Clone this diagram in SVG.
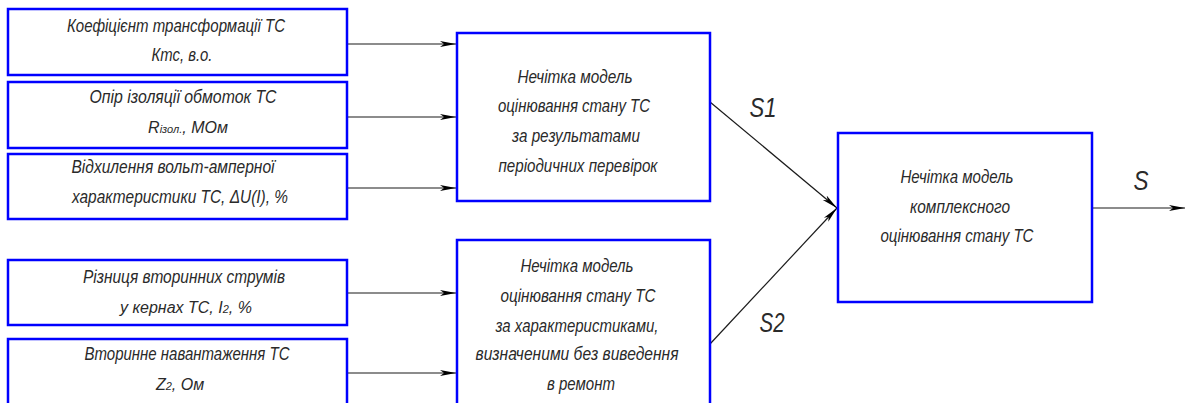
<svg xmlns="http://www.w3.org/2000/svg" width="1186" height="403" viewBox="0 0 1186 403">
<style>
.box{fill:#fff;stroke:#0000ff;stroke-width:2.5}
.t{font-family:"Liberation Sans Narrow","Liberation Sans",sans-serif;font-style:italic;font-size:18px;fill:#2a2a2a;text-anchor:middle}
.t2{font-family:"Liberation Sans Narrow","Liberation Sans",sans-serif;font-style:italic;font-size:16px;fill:#2a2a2a;text-anchor:middle}
.s{font-family:"Liberation Sans Narrow","Liberation Sans",sans-serif;font-style:italic;font-size:28px;fill:#2a2a2a;text-anchor:middle}
.c{fill:none;stroke:#1a1a1a;stroke-width:1.2}
.sub{font-size:11px}
</style>
<defs>
<marker id="ah" markerUnits="userSpaceOnUse" markerWidth="18" markerHeight="10" refX="16" refY="5" orient="auto">
<path d="M0,2 L16,5 L0,8 L4,5 Z" fill="#000"/>
</marker>
</defs>
<rect width="1186" height="403" fill="#fff"/>
<g id="connectors">
<line class="c" x1="347" y1="44" x2="456" y2="44" marker-end="url(#ah)"/>
<line class="c" x1="347" y1="117" x2="456" y2="117" marker-end="url(#ah)"/>
<line class="c" x1="347" y1="188" x2="456" y2="188" marker-end="url(#ah)"/>
<line class="c" x1="347" y1="293" x2="456" y2="293" marker-end="url(#ah)"/>
<line class="c" x1="347" y1="373" x2="456" y2="373" marker-end="url(#ah)"/>
<line class="c" x1="710" y1="102" x2="837" y2="208" marker-end="url(#ah)"/>
<line class="c" x1="710" y1="344" x2="837" y2="208" marker-end="url(#ah)"/>
<line class="c" x1="1092" y1="208" x2="1185" y2="208" marker-end="url(#ah)"/>
<text class="s" x="763" y="117" textLength="27" lengthAdjust="spacingAndGlyphs">S1</text>
<text class="s" x="772" y="332" textLength="25" lengthAdjust="spacingAndGlyphs">S2</text>
<text class="s" x="1141" y="190" textLength="15" lengthAdjust="spacingAndGlyphs">S</text>
</g>
<g id="n1">
<rect class="box" x="8" y="9" width="339" height="66"/>
<text class="t" x="176" y="32" textLength="218" lengthAdjust="spacingAndGlyphs">Коефіцієнт трансформації ТС</text>
<text class="t" x="182" y="61" textLength="61" lengthAdjust="spacingAndGlyphs">Ктс, в.о.</text>
</g>
<g id="n2">
<rect class="box" x="8" y="82" width="339" height="66"/>
<text class="t" x="183" y="103" textLength="187" lengthAdjust="spacingAndGlyphs">Опір ізоляції обмоток ТС</text>
<text class="t2" x="188" y="133">R<tspan class="sub">ізол.</tspan>, МОм</text>
</g>
<g id="n3">
<rect class="box" x="8" y="154" width="339" height="65"/>
<text class="t" x="173" y="173" textLength="203" lengthAdjust="spacingAndGlyphs">Відхилення вольт-амперної</text>
<text class="t" x="180" y="203" textLength="216" lengthAdjust="spacingAndGlyphs">характеристики ТС, ΔU(I), %</text>
</g>
<g id="n4">
<rect class="box" x="8" y="260" width="339" height="65"/>
<text class="t" x="184" y="283" textLength="202" lengthAdjust="spacingAndGlyphs">Різниця вторинних струмів</text>
<text class="t2" x="186" y="313">у кернах ТС, I<tspan class="sub">2</tspan>, %</text>
</g>
<g id="n5">
<rect class="box" x="8" y="339" width="339" height="70"/>
<text class="t" x="187" y="360" textLength="205" lengthAdjust="spacingAndGlyphs">Вторинне навантаження ТС</text>
<text class="t2" x="180" y="390">Z<tspan class="sub">2</tspan>, Ом</text>
</g>
<g id="m1">
<rect class="box" x="457" y="33" width="253" height="168"/>
<text class="t" x="575" y="83" textLength="115" lengthAdjust="spacingAndGlyphs">Нечітка модель</text>
<text class="t" x="574" y="112" textLength="152" lengthAdjust="spacingAndGlyphs">оцінювання стану ТС</text>
<text class="t" x="576" y="142" textLength="128" lengthAdjust="spacingAndGlyphs">за результатами</text>
<text class="t" x="578" y="172" textLength="159" lengthAdjust="spacingAndGlyphs">періодичних перевірок</text>
</g>
<g id="m2">
<rect class="box" x="457" y="240" width="253" height="175"/>
<text class="t" x="577" y="272" textLength="113" lengthAdjust="spacingAndGlyphs">Нечітка модель</text>
<text class="t" x="578" y="302" textLength="155" lengthAdjust="spacingAndGlyphs">оцінювання стану ТС</text>
<text class="t" x="577" y="332" textLength="163" lengthAdjust="spacingAndGlyphs">за характеристиками,</text>
<text class="t" x="577" y="360" textLength="203" lengthAdjust="spacingAndGlyphs">визначеними без виведення</text>
<text class="t" x="581" y="390" textLength="68" lengthAdjust="spacingAndGlyphs">в ремонт</text>
</g>
<g id="m3">
<rect class="box" x="838" y="133" width="254" height="169"/>
<text class="t" x="957" y="183" textLength="113" lengthAdjust="spacingAndGlyphs">Нечітка модель</text>
<text class="t" x="960" y="213" textLength="100" lengthAdjust="spacingAndGlyphs">комплексного</text>
<text class="t" x="957" y="242" textLength="153" lengthAdjust="spacingAndGlyphs">оцінювання стану ТС</text>
</g>
</svg>
